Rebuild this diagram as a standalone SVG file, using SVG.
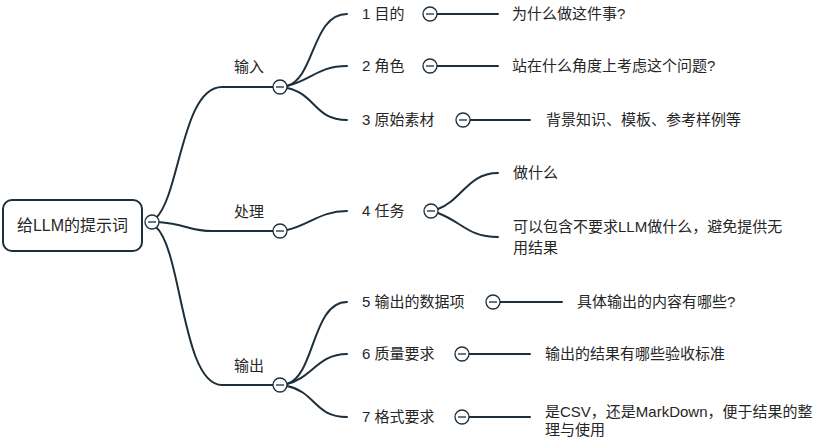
<svg xmlns="http://www.w3.org/2000/svg" width="830" height="444" viewBox="0 0 830 444">
<style>
text{font-family:"Liberation Sans","Noto Sans CJK SC",sans-serif;font-size:15px;fill:#262626}
.c{fill:none;stroke:#1d2f3a;stroke-width:2;stroke-linecap:round}
</style>
<defs>
<g id="minus"><circle r="7" cx="0" cy="0" fill="#fff" stroke="#1d2f3a" stroke-width="1.3"/><line x1="-4" y1="0" x2="4" y2="0" stroke="#1d2f3a" stroke-width="1.3"/></g>
</defs>
<rect width="830" height="444" fill="#fff"/>
<g id="connectors">
<path class="c" d="M156,218 C180,195 182,87 222,87 L273,87"/>
<path class="c" d="M158,222 C186,224 190,231 212,231 L273,231"/>
<path class="c" d="M156,227 C182,250 182,385 222,385 L273,385"/>
<path class="c" d="M287,86 C315,78 312,14 347,14"/>
<path class="c" d="M287,86 C312,80 318,66 347,66"/>
<path class="c" d="M287,88 C316,94 314,120 347,120"/>
<path class="c" d="M287,230 C310,225 320,211 347,211"/>
<path class="c" d="M287,384 C315,376 312,302 347,302"/>
<path class="c" d="M287,384 C312,378 318,354 347,354"/>
<path class="c" d="M287,386 C316,392 314,417 347,417"/>
<path class="c" d="M437,14 L498,14"/>
<path class="c" d="M437,66 L498,66"/>
<path class="c" d="M470,120 L530,120"/>
<path class="c" d="M438,209 C462,200 468,173 498,173"/>
<path class="c" d="M438,213 C462,222 468,237 498,237"/>
<path class="c" d="M500,302 L562,302"/>
<path class="c" d="M469,354 L530,354"/>
<path class="c" d="M469,417 L530,417"/>
</g>
<g id="root">
<rect x="3" y="200" width="139" height="51" rx="9" fill="#fff" stroke="#1d2f3a" stroke-width="2"/>
<text x="72.5" y="231" text-anchor="middle" style="font-size:16px">给LLM的提示词</text>
<use href="#minus" x="152" y="222"/>
</g>
<g id="input">
<text x="249" y="72" text-anchor="middle">输入</text>
<use href="#minus" x="280" y="87"/>
</g>
<g id="process">
<text x="249" y="217" text-anchor="middle">处理</text>
<use href="#minus" x="280" y="231"/>
</g>
<g id="output">
<text x="249" y="371" text-anchor="middle">输出</text>
<use href="#minus" x="280" y="385"/>
</g>
<g id="n1">
<text x="362" y="19">1 目的</text>
<use href="#minus" x="430" y="14"/>
</g>
<g id="n1a"><text x="512" y="19">为什么做这件事?</text></g>
<g id="n2">
<text x="362" y="71">2 角色</text>
<use href="#minus" x="430" y="66"/>
</g>
<g id="n2a"><text x="512" y="71">站在什么角度上考虑这个问题?</text></g>
<g id="n3">
<text x="362" y="125">3 原始素材</text>
<use href="#minus" x="463" y="120"/>
</g>
<g id="n3a"><text x="546" y="125">背景知识、模板、参考样例等</text></g>
<g id="n4">
<text x="362" y="216">4 任务</text>
<use href="#minus" x="431" y="211"/>
</g>
<g id="n4a"><text x="513" y="178">做什么</text></g>
<g id="n4b"><text x="513" y="232">可以包含不要求LLM做什么，避免提供无</text><text x="513" y="253">用结果</text></g>
<g id="n5">
<text x="362" y="307">5 输出的数据项</text>
<use href="#minus" x="493" y="302"/>
</g>
<g id="n5a"><text x="577" y="307">具体输出的内容有哪些?</text></g>
<g id="n6">
<text x="362" y="359">6 质量要求</text>
<use href="#minus" x="462" y="354"/>
</g>
<g id="n6a"><text x="545" y="359">输出的结果有哪些验收标准</text></g>
<g id="n7">
<text x="362" y="422">7 格式要求</text>
<use href="#minus" x="462" y="417"/>
</g>
<g id="n7a"><text x="545" y="417">是CSV，还是MarkDown，便于结果的整</text><text x="545" y="435">理与使用</text></g>
</svg>
